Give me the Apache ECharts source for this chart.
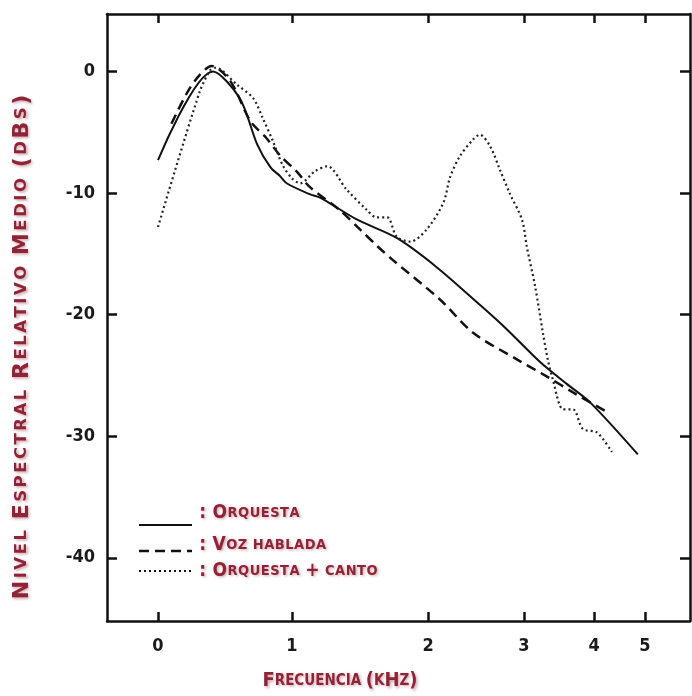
<!DOCTYPE html>
<html>
<head>
<meta charset="utf-8">
<script src="https://cdn.jsdelivr.net/npm/echarts@6/dist/echarts.min.js"></script>
<style>html,body{margin:0;padding:0;background:#fff;}#c{width:692px;height:696px;}</style>
</head>
<body>
<div id="c"></div>
<script>
// Tick labels (kHz) and the warped axis coordinate of each tick (the chart uses a non-linear frequency scale)
const tickKHz = [0, 1, 2, 3, 4, 5];
const freqScaleStops = [0, 1, 2.015, 2.731, 3.254, 3.634];
const dbTicks = [0, -10, -20, -30, -40];

// Orquesta (solid)
const orquestaKHz = [0.0, 0.41, 0.61, 0.74, 0.84, 0.91, 0.96, 1.13, 1.21, 1.48, 1.77, 2.09, 2.54, 2.82, 3.23, 3.61, 3.94, 4.86];
const orquestaDB  = [-7.3, 0.0, -2.2, -6.0, -7.9, -8.6, -9.2, -10.1, -10.4, -12.2, -13.7, -16.1, -19.2, -21.2, -23.9, -25.7, -27.2, -31.5];

// Voz hablada (dashed)
const vozKHz = [0.10, 0.22, 0.31, 0.40, 0.54, 0.69, 0.81, 0.91, 1.04, 1.13, 1.35, 1.50, 1.63, 1.74, 2.13, 2.47, 2.93, 3.33, 3.70, 4.25];
const vozDB  = [-4.3, -1.7, -0.3, 0.45, -0.8, -4.1, -5.5, -6.9, -8.3, -9.5, -11.4, -13.0, -14.4, -15.5, -18.8, -21.5, -23.7, -25.1, -26.4, -28.0];

// Orquesta + canto (dotted)
const cantoKHz = [0.0, 0.31, 0.39, 0.43, 0.59, 0.71, 0.78, 0.86, 0.93, 1.00, 1.06, 1.17, 1.26, 1.40, 1.55, 1.62, 1.70, 1.77, 1.87, 1.99, 2.16, 2.23, 2.33, 2.47, 2.54, 2.65, 2.75, 2.85, 2.98, 3.04, 3.16, 3.27, 3.34, 3.41, 3.56, 3.70, 3.84, 4.06, 4.35];
const cantoDB  = [-12.8, -1.7, 0.1, 0.3, -1.1, -2.2, -3.8, -5.8, -7.7, -8.8, -9.2, -8.2, -7.8, -9.7, -11.4, -12.0, -12.0, -13.6, -14.0, -13.0, -10.8, -8.7, -7.0, -5.6, -5.2, -6.2, -8.1, -10.0, -12.2, -14.4, -17.7, -21.5, -23.7, -25.3, -27.8, -27.8, -29.4, -29.7, -31.3];

const seriesNames = ['Orquesta', 'Voz hablada', 'Orquesta + canto'];
const xTitle = 'Frecuencia (kHz)';
const yTitle = 'Nivel Espectral Relativo Medio (dBs)';

function warp(f) {
  const n = tickKHz.length;
  for (let i = 0; i < n - 1; i++) {
    if (f <= tickKHz[i + 1] || i === n - 2) {
      const t = (f - tickKHz[i]) / (tickKHz[i + 1] - tickKHz[i]);
      return freqScaleStops[i] + t * (freqScaleStops[i + 1] - freqScaleStops[i]);
    }
  }
}
function pairs(xs, ys) { return xs.map((x, i) => [warp(x), ys[i]]); }

const RED = '#8e2436';
const SHADOW = 'rgba(150,50,70,0.45)';
function sc(str, key) {
  let out = '';
  for (const ch of str) {
    if (ch === ' ') { out += '{' + key + 's| }'; continue; }
    if (ch >= 'a' && ch <= 'z') out += '{' + key + 's|' + ch.toUpperCase() + '}';
    else out += '{' + key + 'b|' + ch + '}';
  }
  return out;
}
function richPair(key, big, small, pad, family) {
  const base = { fontFamily: family, fontWeight: 'bold', fill: RED,
    textShadowColor: SHADOW, textShadowBlur: 3, textShadowOffsetX: 1.5, textShadowOffsetY: 1.5,
    padding: [0, pad, 0, pad] };
  const r = {};
  r[key + 'b'] = Object.assign({}, base, { fontSize: big });
  r[key + 's'] = Object.assign({}, base, { fontSize: small });
  return r;
}
const WIDE = '"DejaVu Sans",sans-serif';
const COND = '"DejaVu Sans Condensed",sans-serif';

const chart = echarts.init(document.getElementById('c'), null, { renderer: 'canvas' });

const xMin = -0.3806, xMax = 3.970;
const axisLineStyle = { color: '#111', width: 2.5 };
const tickStyle = { color: '#111', width: 2.5 };
const labelFont = { fontFamily: '"DejaVu Sans Condensed","DejaVu Sans",sans-serif', fontWeight: 'bold', fontSize: 18, color: '#1a1a1a' };

const legendY = [525, 551, 571];
const legendTextY = [513, 545, 571];
const dashes = ['solid', [10, 6], [2, 3]];

const graphics = [];
// Y title
graphics.push({
  type: 'text', x: 22, y: 347, rotation: Math.PI / 2,
  style: { text: sc(yTitle, 'y'), rich: richPair('y', 22, 16.5, 1.25, WIDE), align: 'center', verticalAlign: 'middle' }
});
// X title
graphics.push({
  type: 'text', x: 340, y: 681,
  style: { text: sc(xTitle, 'x'), rich: richPair('x', 20, 15, 0, COND), align: 'center', verticalAlign: 'middle' }
});
// Legend
seriesNames.forEach((nm, i) => {
  graphics.push({
    type: 'line', shape: { x1: 139, y1: legendY[i], x2: 192, y2: legendY[i] },
    style: { stroke: '#111', lineWidth: i === 1 ? 2.5 : 2, lineDash: dashes[i] === 'solid' ? null : dashes[i] }
  });
  graphics.push({
    type: 'text', x: 199, y: legendTextY[i],
    style: { text: '{lb|: }' + sc(nm, 'l'), rich: richPair('l', 19, 14.5, 0.25, COND), align: 'left', verticalAlign: 'middle' }
  });
});

const option = {
  backgroundColor: '#fff',
  animation: false,
  grid: { left: 107, top: 14, right: 2, bottom: 75, containLabel: false },
  xAxis: [
    {
      type: 'value', min: xMin, max: xMax, position: 'bottom',
      axisLine: { show: true, onZero: false, lineStyle: axisLineStyle },
      axisTick: { show: true, inside: true, length: 9, lineStyle: tickStyle, customValues: freqScaleStops },
      axisLabel: Object.assign({ show: true, margin: 16, customValues: freqScaleStops,
        formatter: v => { let best = 0; freqScaleStops.forEach((s, i) => { if (Math.abs(s - v) < Math.abs(freqScaleStops[best] - v)) best = i; }); return String(tickKHz[best]); } }, labelFont),
      splitLine: { show: false }
    },
    {
      type: 'value', min: xMin, max: xMax, position: 'top',
      axisLine: { show: true, onZero: false, lineStyle: axisLineStyle },
      axisTick: { show: true, inside: true, length: 9, lineStyle: tickStyle, customValues: freqScaleStops },
      axisLabel: { show: false },
      splitLine: { show: false }
    }
  ],
  yAxis: [
    {
      type: 'value', min: -45.2, max: 4.72, position: 'left',
      axisLine: { show: true, onZero: false, lineStyle: axisLineStyle },
      axisTick: { show: true, inside: true, length: 10, lineStyle: tickStyle, customValues: dbTicks },
      axisLabel: Object.assign({ show: true, margin: 12, customValues: dbTicks, formatter: v => String(Math.round(v)) }, labelFont),
      splitLine: { show: false }
    },
    {
      type: 'value', min: -45.2, max: 4.72, position: 'right',
      axisLine: { show: true, onZero: false, lineStyle: axisLineStyle },
      axisTick: { show: true, inside: true, length: 10, lineStyle: tickStyle, customValues: dbTicks },
      axisLabel: { show: false },
      splitLine: { show: false }
    }
  ],
  series: [
    { name: seriesNames[0], type: 'line', xAxisIndex: 0, yAxisIndex: 0, data: pairs(orquestaKHz, orquestaDB),
      showSymbol: false, smooth: 0.3, lineStyle: { color: '#111', width: 2 } },
    { name: seriesNames[1], type: 'line', xAxisIndex: 0, yAxisIndex: 0, data: pairs(vozKHz, vozDB),
      showSymbol: false, smooth: 0.3, lineStyle: { color: '#111', width: 2.5, type: [10, 6] } },
    { name: seriesNames[2], type: 'line', xAxisIndex: 0, yAxisIndex: 0, data: pairs(cantoKHz, cantoDB),
      showSymbol: false, smooth: 0.3, lineStyle: { color: '#222', width: 2.2, type: [2, 3] } }
  ],
  graphic: graphics
};
chart.setOption(option);
</script>
</body>
</html>
